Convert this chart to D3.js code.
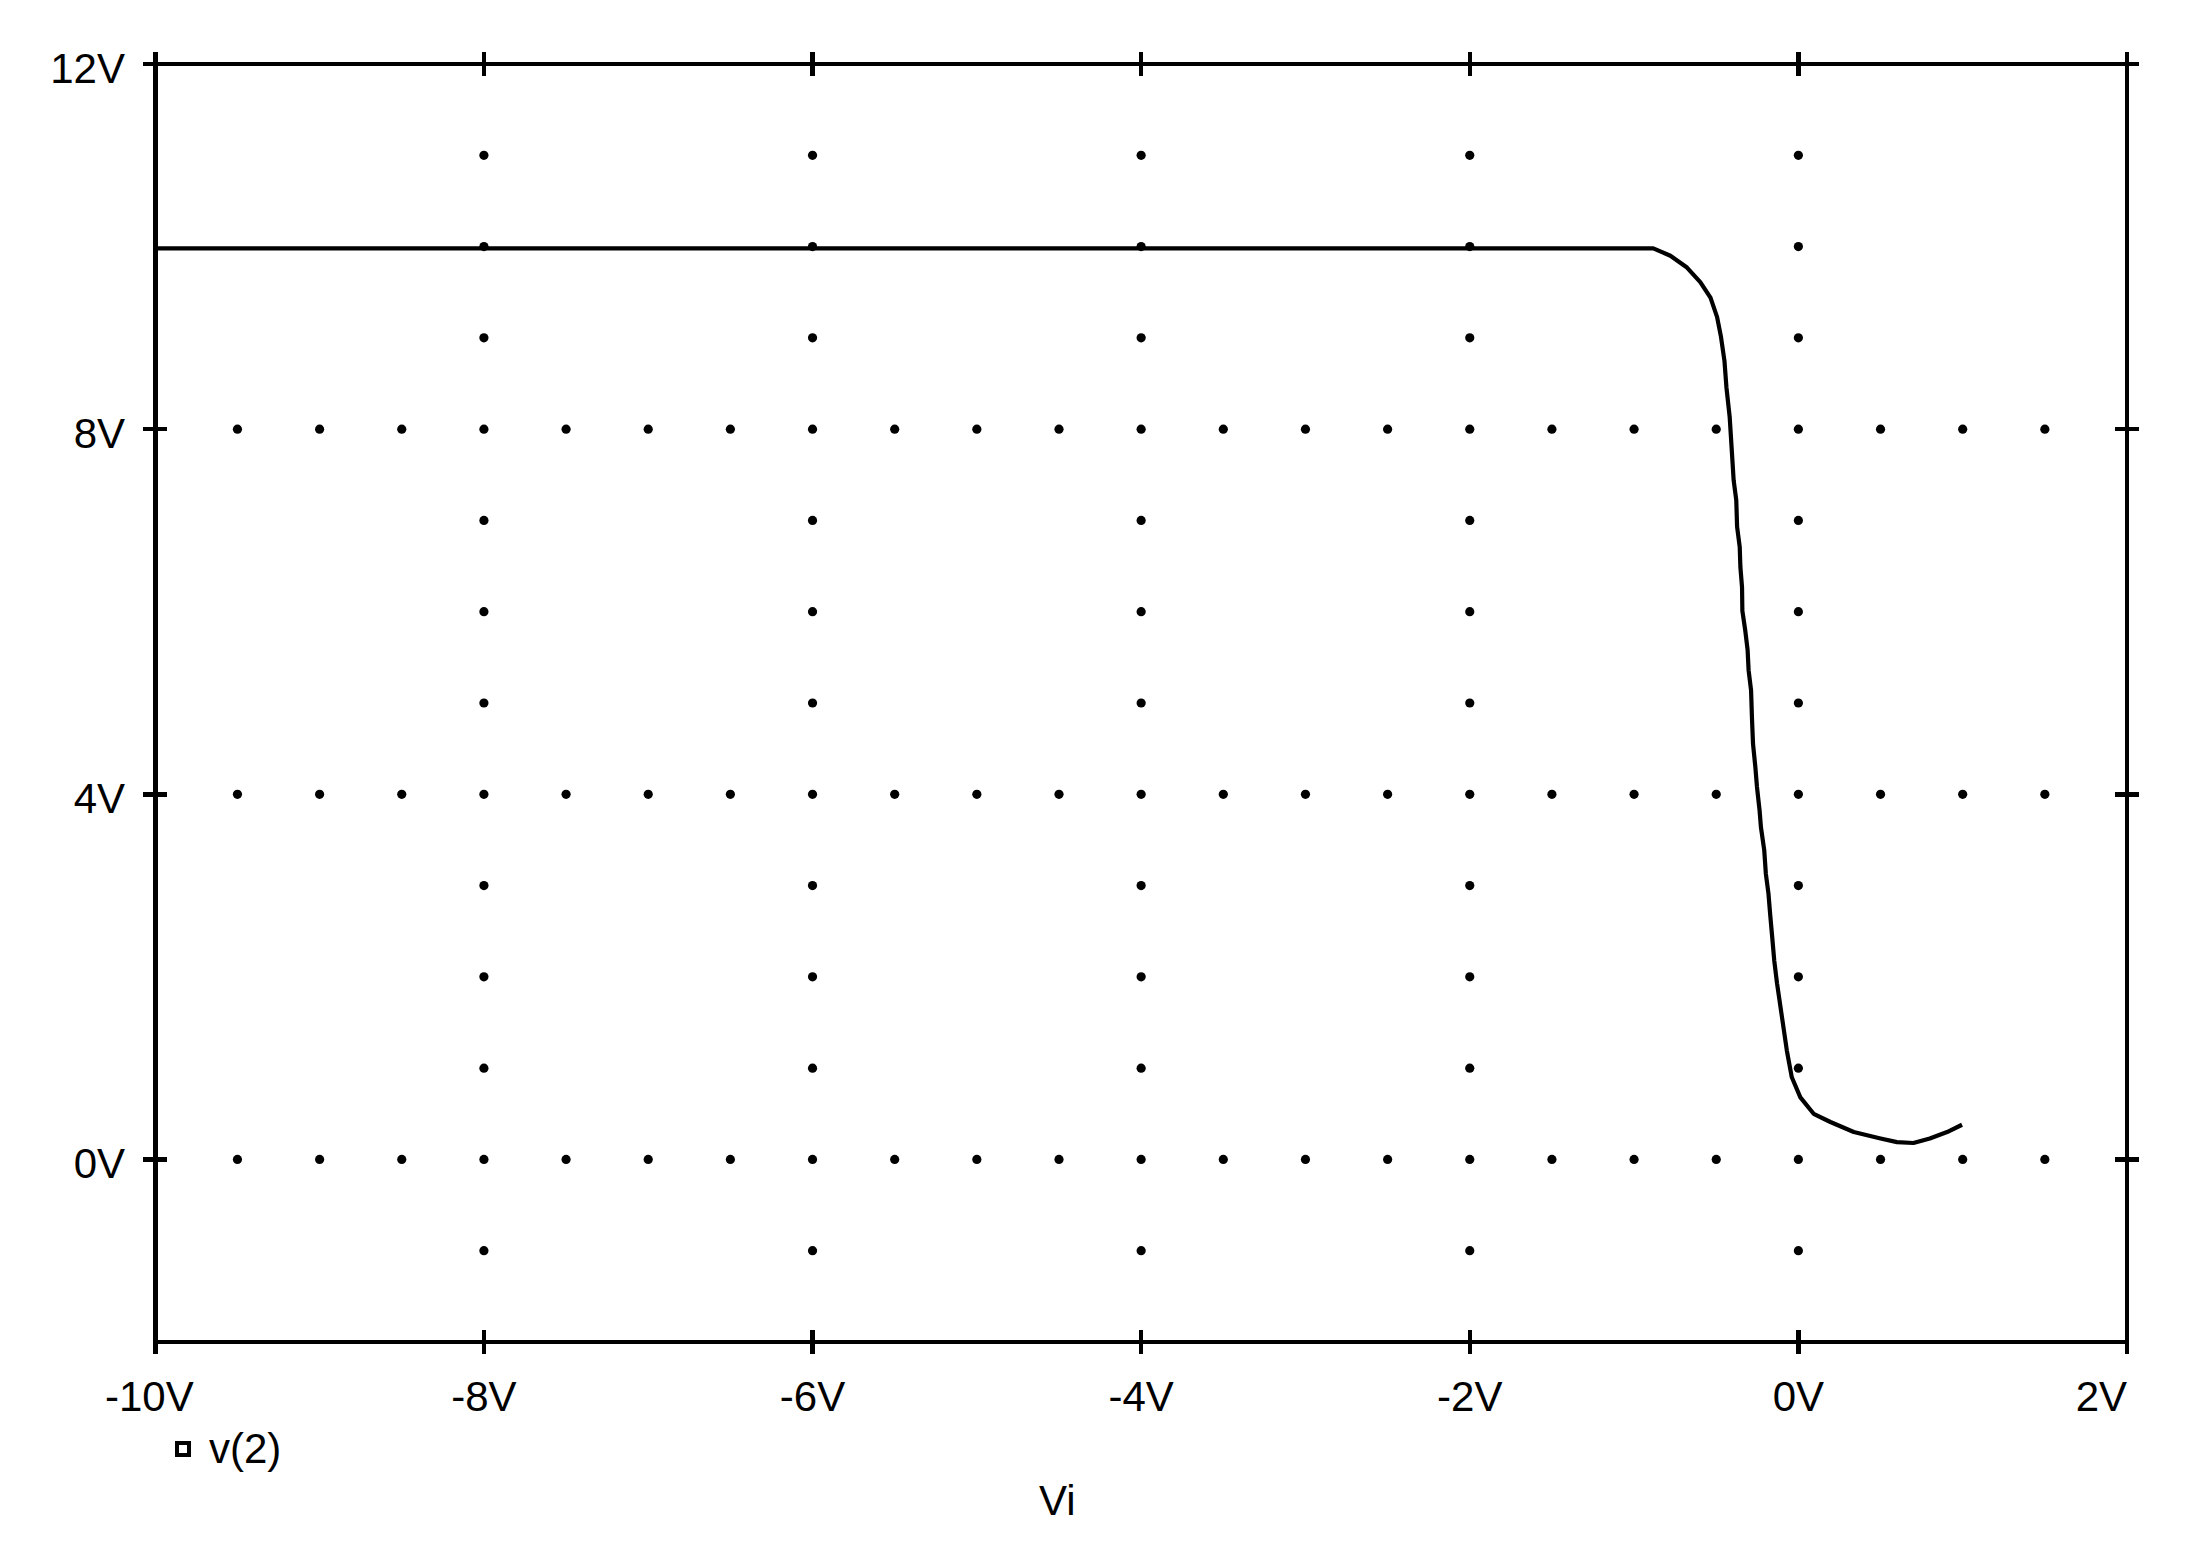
<!DOCTYPE html>
<html>
<head>
<meta charset="utf-8">
<script src="https://cdn.jsdelivr.net/npm/d3@7"></script>
<style>
  html, body { margin: 0; padding: 0; background: #fff; }
  svg { display: block; }
  text { font-family: "Liberation Sans", Arial, Helvetica, sans-serif; fill: #000; }
</style>
</head>
<body>
<svg id="chart" width="2202" height="1542"></svg>
<script>
// ---- Data ----
const seriesName = "v(2)";
const xTitle = "Vi";
const xTickValues = [-10, -8, -6, -4, -2, 0, 2];
const xTickLabels = ["-10V", "-8V", "-6V", "-4V", "-2V", "0V", "2V"];
const yTickValues = [0, 4, 8, 12];
const yTickLabels = ["0V", "4V", "8V", "12V"];
const vi = [-10, -0.883, -0.779, -0.678, -0.597, -0.535, -0.495, -0.471, -0.45, -0.438,
  -0.418, -0.404, -0.394, -0.378, -0.373, -0.357, -0.353, -0.343, -0.341, -0.323,
  -0.309, -0.303, -0.288, -0.282, -0.276, -0.262, -0.252, -0.236, -0.228, -0.208,
  -0.198, -0.182, -0.172, -0.161, -0.147, -0.13, -0.10, -0.07, -0.04, 0.012,
  0.093, 0.195, 0.337, 0.50, 0.60, 0.70, 0.80, 0.905, 0.996];
const v2 = [9.98, 9.98, 9.90, 9.77, 9.61, 9.44, 9.23, 9.01, 8.75, 8.46,
  8.13, 7.73, 7.44, 7.22, 6.93, 6.71, 6.49, 6.27, 6.01, 5.79,
  5.58, 5.36, 5.14, 4.81, 4.55, 4.30, 4.08, 3.82, 3.64, 3.39,
  3.13, 2.91, 2.69, 2.47, 2.18, 1.93, 1.56, 1.19, 0.90, 0.68,
  0.50, 0.41, 0.30, 0.23, 0.19, 0.18, 0.23, 0.30, 0.38];
// dotted grid: columns at these x values (dots every 1 V), rows at these y values (dots every 0.5 V)
const gridColumnsX = [-8, -6, -4, -2, 0];
const gridRowsY = [0, 4, 8];

// ---- Layout ----
const L = 155.3, R = 2127, T = 64, B = 1342;
const x = d3.scaleLinear().domain([-10, 2]).range([L, R]);
const y = d3.scaleLinear().domain([-2, 12]).range([B, T]);

const svg = d3.select("#chart");

// grid dots
const dots = [];
gridColumnsX.forEach(cx => {
  d3.range(-1, 12, 1).forEach(cy => {
    if (!gridRowsY.includes(cy)) dots.push([cx, cy]);
  });
});
gridRowsY.forEach(cy => {
  d3.range(-9.5, 2, 0.5).forEach(cx => dots.push([cx, cy]));
});
svg.append("g").selectAll("circle").data(dots).join("circle")
  .attr("cx", d => x(d[0])).attr("cy", d => y(d[1])).attr("r", 4.6).attr("fill", "#000");

// curve
const pts = vi.map((v, i) => [v, v2[i]]);
svg.append("path").datum(pts)
  .attr("d", d3.line().x(d => x(d[0])).y(d => y(d[1])).curve(d3.curveLinear))
  .attr("fill", "none").attr("stroke", "#000").attr("stroke-width", 4.2)
  .attr("stroke-linejoin", "round");

// frame
svg.append("rect").attr("x", L).attr("y", T).attr("width", R - L).attr("height", B - T)
  .attr("fill", "none").attr("stroke", "#000").attr("stroke-width", 4.5)
  .attr("shape-rendering", "crispEdges");

// ticks crossing the frame
const tk = 12;
const tg = svg.append("g").attr("stroke", "#000").attr("stroke-width", 4.5)
  .attr("shape-rendering", "crispEdges");
xTickValues.forEach(v => {
  tg.append("line").attr("x1", x(v)).attr("x2", x(v)).attr("y1", B - tk).attr("y2", B + tk);
  tg.append("line").attr("x1", x(v)).attr("x2", x(v)).attr("y1", T - tk).attr("y2", T + tk);
});
yTickValues.forEach(v => {
  tg.append("line").attr("y1", y(v)).attr("y2", y(v)).attr("x1", L - tk).attr("x2", L + tk);
  tg.append("line").attr("y1", y(v)).attr("y2", y(v)).attr("x1", R - tk).attr("x2", R + tk);
});

// tick labels
const fs = 42;
xTickValues.forEach((v, i) => {
  const last = i === xTickValues.length - 1;
  const first = i === 0;
  svg.append("text")
    .attr("x", last ? x(v) : x(v) + (first ? -6 : 0))
    .attr("y", 1411)
    .attr("text-anchor", last ? "end" : "middle")
    .attr("font-size", fs)
    .text(xTickLabels[i]);
});
yTickValues.forEach((v, i) => {
  svg.append("text")
    .attr("x", 125).attr("y", y(v) + 19)
    .attr("text-anchor", "end").attr("font-size", fs)
    .text(yTickLabels[i]);
});

// legend
svg.append("rect").attr("x", 177).attr("y", 1443).attr("width", 12).attr("height", 12)
  .attr("fill", "#fff").attr("stroke", "#000").attr("stroke-width", 4);
svg.append("text").attr("x", 209).attr("y", 1463).attr("font-size", fs).text(seriesName);

// x title
svg.append("text").attr("x", 1039).attr("y", 1515).attr("font-size", fs).text(xTitle);
</script>
</body>
</html>
